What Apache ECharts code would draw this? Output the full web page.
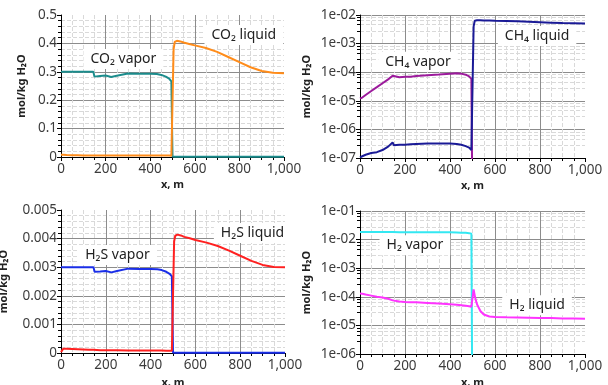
<!DOCTYPE html>
<html>
<head>
<meta charset="utf-8">
<script src="https://cdn.jsdelivr.net/npm/echarts@6/dist/echarts.min.js"></script>
<style>
html, body { margin: 0; padding: 0; background: #fff; }
#chart { width: 608px; height: 385px; }
</style>
</head>
<body>
<div id="chart"></div>
<script>
// positions along the pipe, m (shared by all series)
const xPos = [0, 10, 25, 50, 75, 100, 125, 145, 150, 175, 200, 225, 250, 300, 350, 400, 430, 450, 470, 485, 495,
  500, 505, 510, 515, 520, 535, 550, 575, 600, 650, 700, 750, 800, 850, 900, 950, 1000];

// CO2, mol/kg H2O
const co2Vapor = [0.300, 0.300, 0.300, 0.300, 0.300, 0.300, 0.300, 0.300, 0.283, 0.285, 0.287, 0.282, 0.286, 0.294, 0.293, 0.293, 0.292, 0.289, 0.283, 0.276, 0.266,
  0.002, 0.001, 0.001, 0.001, 0.001, 0.001, 0.001, 0.001, 0.001, 0.001, 0.001, 0.001, 0.001, 0.001, 0.001, 0.001, 0.001];
const co2Liquid = [0.008, 0.008, 0.007, 0.006, 0.006, 0.005, 0.005, 0.005, 0.005, 0.005, 0.005, 0.005, 0.005, 0.005, 0.005, 0.005, 0.005, 0.005, 0.005, 0.005, 0.004,
  0.004, 0.380, 0.405, 0.410, 0.409, 0.407, 0.403, 0.398, 0.393, 0.384, 0.370, 0.352, 0.334, 0.316, 0.303, 0.297, 0.295];

// CH4, mol/kg H2O (log)
const ch4Vapor = [1.2e-5, 1.3e-5, 1.6e-5, 2.2e-5, 3.0e-5, 4.1e-5, 5.6e-5, 7.5e-5, 6.4e-5, 6.7e-5, 6.9e-5, 7.0e-5, 7.3e-5, 7.8e-5, 8.3e-5, 8.9e-5, 9.2e-5, 8.9e-5, 8.2e-5, 7.2e-5, 5.8e-5,
  1e-9, null, null, null, null, null, null, null, null, null, null, null, null, null, null, null, null];
const ch4Liquid = [1.05e-7, 1.15e-7, 1.3e-7, 1.5e-7, 1.6e-7, 1.9e-7, 2.5e-7, 3.5e-7, 2.8e-7, 2.9e-7, 2.9e-7, 3.0e-7, 3.1e-7, 3.2e-7, 3.2e-7, 3.2e-7, 3.1e-7, 2.9e-7, 2.6e-7, 2.3e-7, 1.9e-7,
  1.8e-7, 4.0e-3, 6.3e-3, 6.5e-3, 6.5e-3, 6.5e-3, 6.4e-3, 6.4e-3, 6.3e-3, 6.2e-3, 6.0e-3, 5.8e-3, 5.6e-3, 5.4e-3, 5.2e-3, 5.1e-3, 5.0e-3];

// H2S, mol/kg H2O
const h2sVapor = [0.00300, 0.00300, 0.00300, 0.00300, 0.00300, 0.00300, 0.00300, 0.00300, 0.00284, 0.00285, 0.00287, 0.00282, 0.00287, 0.00295, 0.00294, 0.00294, 0.00293, 0.00290, 0.00284, 0.00277, 0.00268,
  0.00002, 0.00001, 0.00001, 0.00001, 0.00001, 0.00001, 0.00001, 0.00001, 0.00001, 0.00001, 0.00001, 0.00001, 0.00001, 0.00001, 0.00001, 0.00001, 0.00001];
const h2sLiquid = [0.00003, 0.00015, 0.00015, 0.00014, 0.00013, 0.00012, 0.00011, 0.00011, 0.00010, 0.00010, 0.00010, 0.00010, 0.00010, 0.00009, 0.00009, 0.00009, 0.00009, 0.00009, 0.00008, 0.00008, 0.00008,
  0.00008, 0.00390, 0.00410, 0.00415, 0.00414, 0.00411, 0.00406, 0.00401, 0.00395, 0.00386, 0.00374, 0.00358, 0.00340, 0.00322, 0.00308, 0.00301, 0.00300];

// H2, mol/kg H2O (log)
const h2Vapor = [1.85e-2, 1.85e-2, 1.85e-2, 1.85e-2, 1.85e-2, 1.85e-2, 1.85e-2, 1.85e-2, 1.8e-2, 1.8e-2, 1.8e-2, 1.8e-2, 1.8e-2, 1.8e-2, 1.8e-2, 1.8e-2, 1.78e-2, 1.75e-2, 1.72e-2, 1.68e-2, 1.6e-2,
  1e-9, null, null, null, null, null, null, null, null, null, null, null, null, null, null, null, null];
const h2Liquid = [1.3e-4, 1.28e-4, 1.2e-4, 1.1e-4, 1.0e-4, 9.5e-5, 8.5e-5, 7.5e-5, 7.0e-5, 6.8e-5, 6.6e-5, 6.5e-5, 6.4e-5, 6.1e-5, 5.8e-5, 5.5e-5, 5.3e-5, 5.1e-5, 4.9e-5, 4.7e-5, 4.5e-5,
  4.4e-5, 1.8e-4, 1.1e-4, 7.5e-5, 5.5e-5, 3.2e-5, 2.4e-5, 2.05e-5, 1.95e-5, 1.92e-5, 1.9e-5, 1.87e-5, 1.83e-5, 1.8e-5, 1.76e-5, 1.73e-5, 1.7e-5];

// in-plot captions: [text, x, y]
const captions = [
  ['CO₂ vapor', 280, 0.345], ['CO₂ liquid', 820, 0.43],
  ['CH₄ vapor', 258, 2.3e-4], ['CH₄ liquid', 787, 1.85e-3],
  ['H₂S vapor', 252, 0.00343], ['H₂S liquid', 855, 0.0042],
  ['H₂ vapor', 244, 6.4e-3], ['H₂ liquid', 787, 5.1e-5]
];

const FONT = 'Noto Sans';
const pair = (ys) => xPos.map((x, i) => [x, ys[i]]);

function expLabel(v) {
  const e = Math.round(Math.log10(v));
  return '1e' + (e < 0 ? '-' : '+') + String(Math.abs(e)).padStart(2, '0');
}

const tickText = { fontFamily: FONT, fontSize: 13.5, color: '#3c3c3c' };

function xAxis(gridIndex, gap) {
  return {
    type: 'value', gridIndex, min: 0, max: 1000, interval: 200,
    name: 'x, m', nameLocation: 'middle', nameGap: gap,
    nameTextStyle: { fontFamily: FONT, fontWeight: 'bold', fontSize: 11, color: '#222' },
    axisLine: { onZero: false, lineStyle: { color: '#000' } },
    axisTick: { length: 4, lineStyle: { color: '#000' } },
    minorTick: { show: true, splitNumber: 4, length: 3, lineStyle: { color: '#000' } },
    axisLabel: Object.assign({ margin: 5 }, tickText),
    splitLine: { showMinLine: false, showMaxLine: false, lineStyle: { color: '#8c8c8c' } },
    minorSplitLine: { show: true, lineStyle: { color: '#d9d9d9', type: 'dashed' } }
  };
}

function yAxis(gridIndex, gap, opts) {
  return Object.assign({
    gridIndex,
    name: 'mol/kg H₂O', nameLocation: 'middle', nameGap: gap,
    nameTextStyle: { fontFamily: FONT, fontWeight: 'bold', fontSize: 11, color: '#222' },
    axisLine: { show: true, onZero: false, lineStyle: { color: '#000' } },
    axisTick: { show: true, length: 4, lineStyle: { color: '#000' } },
    minorTick: { show: true, splitNumber: 5, length: 3, lineStyle: { color: '#000' } },
    splitLine: { show: true, showMinLine: false, showMaxLine: false, lineStyle: { color: '#8c8c8c' } },
    minorSplitLine: { show: true, lineStyle: { color: '#d9d9d9', type: 'dashed' } }
  }, opts);
}

function line(idx, ys, color, caption) {
  const s = {
    type: 'line', xAxisIndex: idx, yAxisIndex: idx,
    data: pair(ys), showSymbol: false, symbol: 'none',
    lineStyle: { color, width: 2 }, itemStyle: { color },
    connectNulls: false, clip: true, animation: false, z: 3
  };
  if (caption) {
    s.markPoint = {
      symbol: 'rect', symbolSize: 0, animation: false,
      label: {
        show: true, position: 'inside', formatter: '{b}',
        fontFamily: FONT, fontSize: 14, color: '#222',
        backgroundColor: '#fff', padding: [3, 7]
      },
      data: [{ name: caption[0], coord: [caption[1], caption[2]] }]
    };
  }
  return s;
}

const chart = echarts.init(document.getElementById('chart'), null, { renderer: 'canvas' });

chart.setOption({
  animation: false,
  grid: [
    { left: 61, top: 15, width: 223, height: 142, outerBoundsMode: 'none' },
    { left: 360, top: 15, width: 225, height: 143, outerBoundsMode: 'none' },
    { left: 61, top: 210, width: 224, height: 143, outerBoundsMode: 'none' },
    { left: 360, top: 211, width: 225, height: 143, outerBoundsMode: 'none' }
  ],
  xAxis: [xAxis(0, 22), xAxis(1, 22), xAxis(2, 24), xAxis(3, 23)],
  yAxis: [
    yAxis(0, 34, { type: 'value', min: 0, max: 0.5, interval: 0.1,
      axisLabel: Object.assign({ margin: 4 }, tickText) }),
    yAxis(1, 48, { type: 'log', logBase: 10, min: 1e-7, max: 1e-2,
      axisLabel: Object.assign({ margin: 4, formatter: expLabel }, tickText) }),
    yAxis(2, 52, { type: 'value', min: 0, max: 0.005, interval: 0.001,
      axisLabel: Object.assign({ margin: 4 }, tickText) }),
    yAxis(3, 48, { type: 'log', logBase: 10, min: 1e-6, max: 1e-1,
      axisLabel: Object.assign({ margin: 4, formatter: expLabel }, tickText) })
  ],
  series: [
    line(0, co2Vapor, '#1b8c8c', captions[0]),
    line(0, co2Liquid, '#ff8c1a', captions[1]),
    line(1, ch4Vapor, '#9c1a9c', captions[2]),
    line(1, ch4Liquid, '#1a1a96', captions[3]),
    line(2, h2sVapor, '#1a2ee8', captions[4]),
    line(2, h2sLiquid, '#ff2020', captions[5]),
    line(3, h2Vapor, '#33e8f2', captions[6]),
    line(3, h2Liquid, '#ff33ff', captions[7])
  ]
});
</script>
</body>
</html>
